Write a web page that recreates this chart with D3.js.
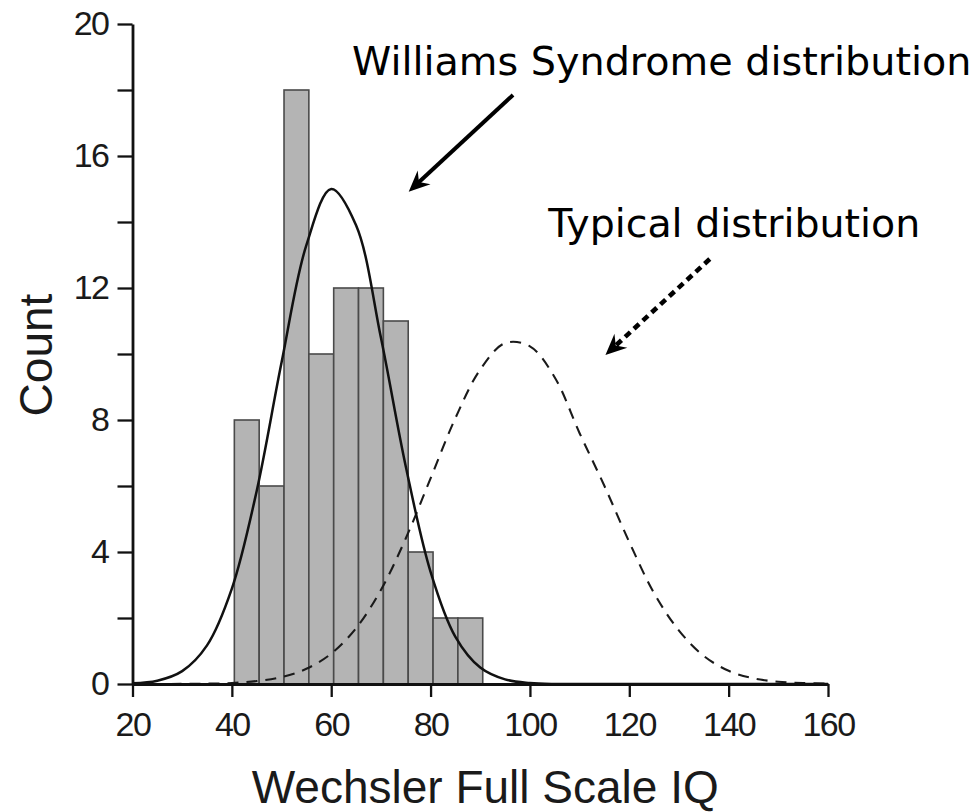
<!DOCTYPE html>
<html>
<head>
<meta charset="utf-8">
<script src="https://cdn.jsdelivr.net/npm/d3@7"></script>
<style>
  body { margin: 0; background: #fff; }
  .axis path, .axis line { stroke: #111; }
  .axis text { font-family: "Liberation Sans", Arial, sans-serif; fill: #1a1a1a; }
</style>
</head>
<body>
<div id="chart"></div>
<script>
// histogram of Wechsler Full Scale IQ (bin lower edges, width 5)
var binLo = [40.5, 45.5, 50.5, 55.5, 60.5, 65.5, 70.5, 75.5, 80.5, 85.5];
var counts = [8, 6, 18, 10, 12, 12, 11, 4, 2, 2];
var binWidth = 5;

// curves, every 5 IQ points from 20 to 160
var curveIQ = [20, 25, 30, 35, 40, 45, 50, 55, 60, 65, 70, 75, 80, 85, 90, 95, 100,
  105, 110, 115, 120, 125, 130, 135, 140, 145, 150, 155, 160];
var williams = [0.02, 0.1, 0.39, 1.17, 2.89, 5.85, 9.74, 13.3, 15.0, 13.9, 10.5, 6.6, 3.4,
  1.43, 0.5, 0.14, 0.03, 0, 0, 0, 0, 0, 0, 0, 0, 0, 0, 0, 0];
var typical = [0, 0, 0.004, 0.01, 0.03, 0.09, 0.21, 0.46, 0.92, 1.69, 2.85, 4.41, 6.23,
  8.06, 9.53, 10.33, 10.23, 9.29, 7.6, 6.0, 4.3, 2.75, 1.62, 0.85, 0.4, 0.17, 0.07, 0.03, 0.01];

var xTicks = [20, 40, 60, 80, 100, 120, 140, 160];
var yTicks = [0, 2, 4, 6, 8, 10, 12, 14, 16, 18, 20];
var yLabels = [0, 4, 8, 12, 16, 20];

var svg = d3.select('#chart').append('svg')
  .attr('width', 977)
  .attr('height', 812);

var x = d3.scaleLinear().domain([20, 160]).range([132.5, 828]);
var y = d3.scaleLinear().domain([0, 20]).range([684, 24]);

// bars
svg.append('g').selectAll('rect').data(counts)
  .enter().append('rect')
  .attr('x', function(d, i) { return x(binLo[i]); })
  .attr('y', function(d) { return y(d); })
  .attr('width', function(d, i) { return x(binLo[i] + binWidth) - x(binLo[i]); })
  .attr('height', function(d) { return y(0) - y(d); })
  .attr('fill', '#b4b4b4')
  .attr('stroke', '#4a4a4a')
  .attr('stroke-width', 1.6);

var line = d3.line()
  .x(function(d, i) { return x(curveIQ[i]); })
  .y(function(d) { return y(d); })
  .curve(d3.curveCatmullRom);

svg.append('path')
  .attr('d', line(typical))
  .attr('fill', 'none')
  .attr('stroke', '#1a1a1a')
  .attr('stroke-width', 2.1)
  .attr('stroke-dasharray', '11,8');

svg.append('path')
  .attr('d', line(williams))
  .attr('fill', 'none')
  .attr('stroke', '#111')
  .attr('stroke-width', 2.5);

// axes
var yAxis = svg.append('g').attr('class', 'axis')
  .attr('transform', 'translate(' + x(20) + ',0)')
  .call(d3.axisLeft(y).tickValues(yTicks).tickSize(15).tickSizeOuter(0).tickPadding(9)
    .tickFormat(function(d) { return yLabels.indexOf(d) >= 0 ? d : ''; }));
yAxis.select('.domain').attr('stroke-width', 2.8);
yAxis.selectAll('.tick line').attr('stroke-width', 2.3);
yAxis.selectAll('.tick text').attr('font-size', 34).attr('letter-spacing', -1.5);

var xAxis = svg.append('g').attr('class', 'axis')
  .attr('transform', 'translate(0,' + y(0) + ')')
  .call(d3.axisBottom(x).tickValues(xTicks).tickSize(13).tickSizeOuter(0).tickPadding(15));
xAxis.select('.domain').attr('stroke-width', 2.8);
xAxis.selectAll('.tick line').attr('stroke-width', 2.3);
xAxis.selectAll('.tick text').attr('font-size', 34).attr('letter-spacing', -1.5);

svg.append('text')
  .attr('x', (x(20) + x(160)) / 2 + 5)
  .attr('y', 803)
  .attr('text-anchor', 'middle')
  .attr('font-family', '"Liberation Sans", Arial, sans-serif')
  .attr('font-size', 46)
  .attr('fill', '#1a1a1a')
  .text('Wechsler Full Scale IQ');

svg.append('text')
  .attr('transform', 'translate(52,' + (y(10) + 1) + ') rotate(-90)')
  .attr('text-anchor', 'middle')
  .attr('font-family', '"Liberation Sans", Arial, sans-serif')
  .attr('font-size', 46)
  .attr('fill', '#1a1a1a')
  .text('Count');

// annotations
function arrow(x1, y1, x2, y2, dashed) {
  var px1 = x(x1), py1 = y(y1), px2 = x(x2), py2 = y(y2);
  var a = Math.atan2(py2 - py1, px2 - px1);
  var back = 13;
  svg.append('path')
    .attr('d', 'M' + px1 + ' ' + py1 + 'L' + (px2 - back * Math.cos(a)) + ' ' + (py2 - back * Math.sin(a)))
    .attr('stroke', '#000')
    .attr('stroke-width', dashed ? 4.6 : 4)
    .attr('stroke-dasharray', dashed ? '7,5' : null)
    .attr('fill', 'none');
  svg.append('path')
    .attr('d', 'M0 0L-21 -9.5L-14 0L-21 9.5Z')
    .attr('transform', 'translate(' + px2 + ',' + py2 + ') rotate(' + (a * 180 / Math.PI) + ')')
    .attr('fill', '#000');
}

arrow(96.6, 17.85, 75.6, 14.92, false);
arrow(136.2, 12.88, 115.2, 9.97, true);

svg.append('text')
  .attr('x', x(64.2))
  .attr('y', y(18.45))
  .attr('font-family', '"DejaVu Sans", Verdana, sans-serif')
  .attr('font-size', 39.7)
  .attr('fill', '#000')
  .text('Williams Syndrome distribution');

svg.append('text')
  .attr('x', x(103.7))
  .attr('y', y(13.55))
  .attr('font-family', '"DejaVu Sans", Verdana, sans-serif')
  .attr('font-size', 39.5)
  .attr('fill', '#000')
  .text('Typical distribution');
</script>
</body>
</html>
